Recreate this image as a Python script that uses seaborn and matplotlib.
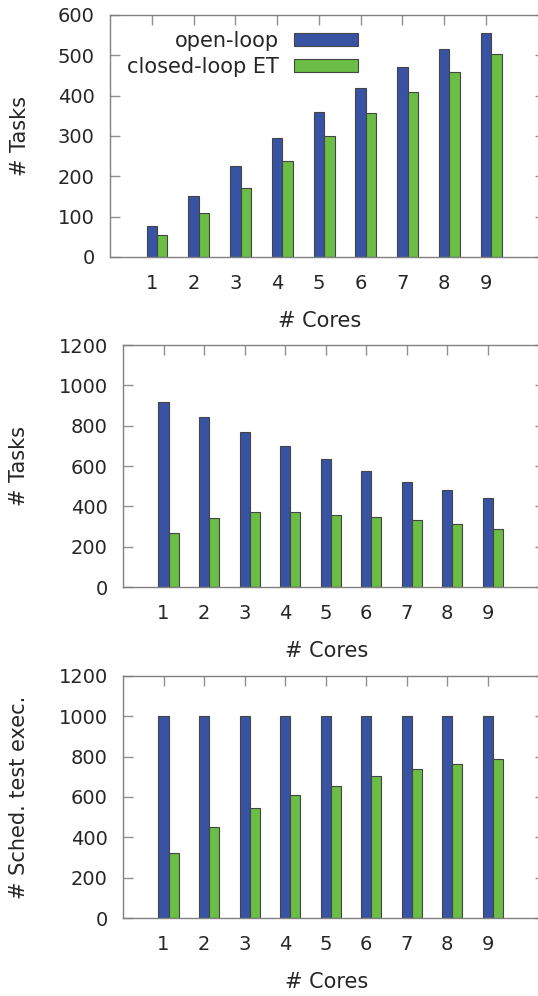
import numpy as np
import pandas as pd
import matplotlib
matplotlib.use("Agg")
import matplotlib.pyplot as plt
import seaborn as sns
from matplotlib.patches import Patch

# Dados
cores = [1, 2, 3, 4, 5, 6, 7, 8, 9]
tasks_open = [76, 150, 225, 295, 360, 420, 472, 516, 554]
tasks_closed = [55, 109, 172, 237, 299, 356, 410, 458, 502]
tasks2_open = [919, 843, 771, 700, 635, 574, 523, 479, 441]
tasks2_closed = [267, 340, 371, 373, 358, 347, 332, 312, 287]
sched_open = [1000, 1000, 1000, 1000, 1000, 1000, 1000, 1000, 1000]
sched_closed = [322, 449, 545, 609, 657, 703, 739, 766, 786]

labels = ["open-loop", "closed-loop ET"]
cor_azul = "#3953a4"
cor_verde = "#6abd45"

sns.set_style("white")
plt.rcParams["font.family"] = ["DejaVu Sans"]
plt.rcParams["font.size"] = 14

fig = plt.figure(figsize=(5.38, 9.96), dpi=100)

paineis = [
    ([0.2045, 0.742, 0.8076, 0.243], tasks_open, tasks_closed, 600, 100, "# Tasks", -0.185, 0.483),
    ([0.2286, 0.4106, 0.7835, 0.243], tasks2_open, tasks2_closed, 1200, 200, "# Tasks", -0.222, 0.484),
    ([0.2286, 0.0783, 0.7835, 0.243], sched_open, sched_closed, 1200, 200, "# Sched. test exec.", -0.222, 0.484),
]

for i, (pos, v_open, v_closed, ymax, passo, ylabel, ylx, xlx) in enumerate(paineis):
    ax = fig.add_axes(pos)
    df_open = pd.DataFrame({"x": cores, "y": v_open})
    df_closed = pd.DataFrame({"x": np.array(cores) + 0.25, "y": v_closed})
    sns.barplot(data=df_open, x="x", y="y", native_scale=True, width=0.25,
                color=cor_azul, saturation=1, edgecolor="#444444", linewidth=0.8, ax=ax)
    sns.barplot(data=df_closed, x="x", y="y", native_scale=True, width=0.25,
                color=cor_verde, saturation=1, edgecolor="#444444", linewidth=0.8, ax=ax)
    ax.set_xlim(0, 10.4)
    ax.set_ylim(0, ymax)
    ax.set_xticks(cores)
    ax.set_xticklabels([str(c) for c in cores])
    ax.set_yticks(np.arange(0, ymax + 1, passo))
    for s in ax.spines.values():
        s.set_color("#808080")
        s.set_linewidth(1.0)
    ax.tick_params(axis="both", direction="in", length=7.5, width=1.0, color="#909090",
                   labelsize=14, top=True, right=True, left=True, bottom=False)
    ax.tick_params(axis="y", pad=11)
    ax.tick_params(axis="x", pad=12)
    ax.set_ylabel(ylabel, fontsize=15)
    ax.set_xlabel("# Cores", fontsize=15)
    ax.yaxis.set_label_coords(ylx, 0.5)
    ax.xaxis.set_label_coords(xlx, -0.223)

    if i == 0:
        handles = [Patch(facecolor=cor_azul, edgecolor="#444444", linewidth=0.8),
                   Patch(facecolor=cor_verde, edgecolor="#444444", linewidth=0.8)]
        ax.legend(handles, labels, loc="upper right", bbox_to_anchor=(0.571, 0.935),
                  frameon=False, markerfirst=False, borderpad=0, borderaxespad=0,
                  handlelength=3.1, handleheight=0.62, handletextpad=0.7,
                  labelspacing=0.3, fontsize=15)

fig.savefig("out.png", dpi=100)
